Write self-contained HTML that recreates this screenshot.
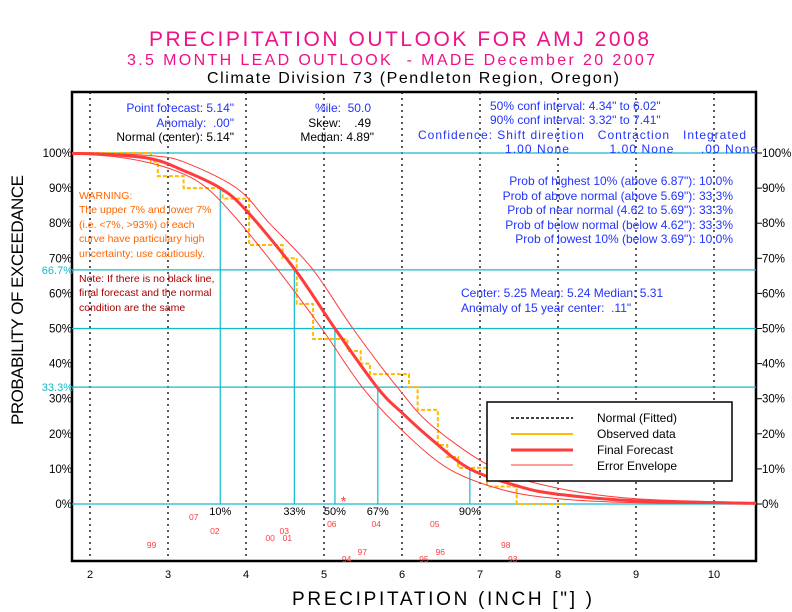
<!DOCTYPE html>
<html><head><meta charset="utf-8"><style>
html,body{margin:0;padding:0;background:#fff;}
svg{display:block;font-family:"Liberation Sans",sans-serif;}
text{white-space:pre;}
</style></head><body>
<svg id="chart" width="792" height="612" viewBox="0 0 792 612" xmlns="http://www.w3.org/2000/svg">
<g>
<text x="399" y="46" text-anchor="middle" font-size="21" fill="#ee1188" textLength="500">PRECIPITATION OUTLOOK FOR AMJ 2008</text>
<text x="391" y="65" text-anchor="middle" font-size="16" fill="#ee1188" textLength="528">3.5 MONTH LEAD OUTLOOK  - MADE December 20 2007</text>
<text x="413" y="83" text-anchor="middle" font-size="16" fill="#000" textLength="412">Climate Division 73 (Pendleton Region, Oregon)</text>
</g>
<g id="plot"></g>
<g font-size="12">
<text x="234" y="112" text-anchor="end" fill="#2233ff">Point forecast: 5.14"</text>
<text x="234" y="127" text-anchor="end" fill="#2233ff">Anomaly:  .00"</text>
<text x="234" y="141" text-anchor="end" fill="#000">Normal (center): 5.14"</text>
<text x="371" y="112" text-anchor="end" fill="#2233ff">%ile:  50.0</text>
<text x="371" y="127" text-anchor="end" fill="#000">Skew:    .49</text>
<text x="374" y="141" text-anchor="end" fill="#000">Median: 4.89"</text>
<text x="490" y="110" fill="#2233ff">50% conf interval: 4.34" to 6.02"</text>
<text x="490" y="124" fill="#2233ff">90% conf interval: 3.32" to 7.41"</text>
<text x="418" y="139" fill="#2233ff" textLength="328">Confidence: Shift direction   Contraction   Integrated</text>
<text x="505" y="153" fill="#2233ff" textLength="252">1.00 None         1.00 None      .00 None</text>
<text x="733" y="185" text-anchor="end" fill="#2233ff">Prob of highest 10% (above 6.87"): 10.0%</text>
<text x="733" y="200" text-anchor="end" fill="#2233ff">Prob of above normal (above 5.69"): 33.3%</text>
<text x="733" y="214" text-anchor="end" fill="#2233ff">Prob of near normal (4.62 to 5.69"): 33.3%</text>
<text x="733" y="229" text-anchor="end" fill="#2233ff">Prob of below normal (below 4.62"): 33.3%</text>
<text x="733" y="243" text-anchor="end" fill="#2233ff">Prob of lowest 10% (below 3.69"): 10.0%</text>
<text x="461" y="297" fill="#2233ff">Center: 5.25 Mean: 5.24 Median: 5.31</text>
<text x="461" y="312" fill="#2233ff">Anomaly of 15 year center:  .11"</text>
</g>
<g font-size="10.5" fill="#ff6600">
<text x="79" y="199">WARNING:</text>
<text x="79" y="213">The upper 7% and lower 7%</text>
<text x="79" y="228">(i.e. &lt;7%, &gt;93%) of each</text>
<text x="79" y="242">curve have particulary high</text>
<text x="79" y="257">uncertainty; use cautiously.</text>
</g>
<g font-size="10.5" fill="#aa0000">
<text x="79" y="282">Note: If there is no black line,</text>
<text x="79" y="296">final forecast and the normal</text>
<text x="79" y="311">condition are the same</text>
</g>
<g>
<rect x="487" y="402" width="245" height="79" fill="#fff" stroke="#000" stroke-width="1.5"/>
<line x1="511" y1="418" x2="573" y2="418" stroke="#000" stroke-width="1.5" stroke-dasharray="3,2"/>
<line x1="511" y1="434" x2="573" y2="434" stroke="#ffbb00" stroke-width="2"/>
<line x1="511" y1="450" x2="573" y2="450" stroke="#ff3b3b" stroke-width="3"/>
<line x1="511" y1="465" x2="573" y2="465" stroke="#ff3b3b" stroke-width="1"/>
<text x="597" y="422" font-size="12">Normal (Fitted)</text>
<text x="597" y="438" font-size="12">Observed data</text>
<text x="597" y="454" font-size="12">Final Forecast</text>
<text x="597" y="470" font-size="12">Error Envelope</text>
</g>
<text x="442" y="605" text-anchor="middle" font-size="19" textLength="300">PRECIPITATION (INCH ["] )</text>
<text transform="translate(23,300) rotate(-90)" text-anchor="middle" font-size="17" textLength="250">PROBABILITY OF EXCEEDANCE</text>
</svg>
<script>
const xTicks = [2,3,4,5,6,7,8,9,10];
const yTicks = [0,10,20,30,40,50,60,70,80,90,100];
const fcX = [1.77,2.3,2.8,3.2,3.67,4.0,4.62,5.14,5.69,6.0,6.4,6.87,7.5,8.0,9.0,10.54];
const fcP = [99.9,99.5,98.3,95,90,83.7,67,50,33,26,18,10,5,2.8,0.9,0.2];
const upX = [1.77,2.3,2.8,3.2,3.88,4.3,4.85,5.37,5.95,6.4,7.2,8.0,9.0,10.54];
const upP = [100,99.8,99.2,97.5,90,80,67,50,33,22,10,4.5,1.5,0.4];
const loX = [1.77,2.3,2.8,3.2,3.5,3.85,4.4,4.97,5.5,6.0,6.6,7.3,8.0,9.0,10.54];
const loP = [99.8,99,97,94,90,82,67,50,33,21,10,4,1.5,0.4,0.1];
const obsX = [2.78,2.87,3.2,3.7,4.04,4.47,4.65,4.86,5.3,5.47,5.59,6.09,6.2,6.46,6.58,6.72,7.09,7.47];
const obsP = [100,97.5,93.4,90,87,73.8,70,57,47,43.6,40,37,33.3,26.8,16.8,13.4,10.3,5,0];
const pctX = [3.67,4.62,5.14,5.69,6.87];
const pctP = [90,67,50,33,10];
const pctLabels = ["10%","33%","50%","67%","90%"];
const hLines = [100,66.7,50,33.3,0];
const years = ["99","07","02","00","03","01","06","94","97","04","95","05","96","98","93"];
const yearVals = [2.79,3.33,3.6,4.31,4.49,4.53,5.1,5.29,5.49,5.67,6.28,6.42,6.49,7.33,7.42];
const yearRow = [5,1,3,4,3,4,2,7,6,2,7,2,6,5,7];
const centerVal = 5.25;

const X0=72,X1=756,Y0=504,Y100=153,TOP=92,BOT=561;
const xs = v => 90 + (v-2)*78;
const ys = p => Y0 - p*(Y0-Y100)/100;
const NS="http://www.w3.org/2000/svg";
const plot=document.getElementById('plot');
function mk(tag,attrs,parent){const e=document.createElementNS(NS,tag);for(const k in attrs)e.setAttribute(k,attrs[k]);(parent||plot).appendChild(e);return e;}

let fr=mk('rect',{x:X0,y:TOP,width:X1-X0,height:BOT-TOP,fill:'none',stroke:'#000','stroke-width':2.5});


xTicks.forEach(v=>{
  const l=mk('line',{x1:xs(v),x2:xs(v),y1:TOP,y2:BOT,stroke:'#000','stroke-width':1.3,'stroke-dasharray':'2,4'});
  
  
  const t=mk('text',{x:xs(v),y:578,'text-anchor':'middle','font-size':11});
  t.textContent=v;
  
  
});
yTicks.forEach(p=>{
  const t=mk('text',{x:72,y:ys(p)+4,'text-anchor':'end','font-size':11.5});
  t.textContent=p+'%';
  
  
  mk('line',{x1:756,x2:762,y1:ys(p),y2:ys(p),stroke:'#000'});
  const r=mk('text',{x:762,y:ys(p)+4,'font-size':11.5});
  r.textContent=p+'%';
  
  
});
hLines.forEach(p=>{
  const l=mk('line',{x1:X0,x2:X1,y1:ys(p),y2:ys(p),stroke:'#11bbcc','stroke-width':1.2});
  
  
});
[66.7,33.3].forEach(p=>{
  const t=mk('text',{x:73,y:ys(p)+4,'text-anchor':'end','font-size':11,fill:'#11bbcc'});
  t.textContent=p+'%';
  
  
});
pctX.forEach((v,i)=>{
  const l=mk('line',{x1:xs(v),x2:xs(v),y1:ys(pctP[i]),y2:Y0,stroke:'#11bbcc','stroke-width':1.2});
  
  
  const t=mk('text',{x:xs(v),y:515,'text-anchor':'middle','font-size':11});
  t.textContent=pctLabels[i];
  
  
});
function smooth(xa,pa){
  const P=xa.map((v,i)=>[xs(v),ys(pa[i])]);
  let d='M'+P[0][0].toFixed(1)+','+P[0][1].toFixed(1);
  for(let i=0;i<P.length-1;i++){
    const p0=P[i>0?i-1:i],p1=P[i],p2=P[i+1],p3=P[i+2<P.length?i+2:i+1];
    const c1=[p1[0]+(p2[0]-p0[0])/6,p1[1]+(p2[1]-p0[1])/6];
    const c2=[p2[0]-(p3[0]-p1[0])/6,p2[1]-(p3[1]-p1[1])/6];
    d+=' C'+c1[0].toFixed(1)+','+c1[1].toFixed(1)+' '+c2[0].toFixed(1)+','+c2[1].toFixed(1)+' '+p2[0].toFixed(1)+','+p2[1].toFixed(1);
  }
  return d;
}
let sp=[];
sp.push(X0+','+ys(obsP[0]));
obsX.forEach((v,i)=>{sp.push(xs(v)+','+ys(obsP[i]));sp.push(xs(v)+','+ys(obsP[i+1]));});
sp.push(xs(8.1)+','+ys(0));
const ob=mk('polyline',{points:sp.join(' '),fill:'none',stroke:'#ffbb00','stroke-width':2,'stroke-dasharray':'4,2'});


const nf=mk('path',{d:smooth(fcX,fcP),fill:'none',stroke:'#000','stroke-width':1,'stroke-dasharray':'3,2'});


const u=mk('path',{d:smooth(upX,upP),fill:'none',stroke:'#ff3b3b','stroke-width':1});


const lo=mk('path',{d:smooth(loX,loP),fill:'none',stroke:'#ff3b3b','stroke-width':1});


const fc=mk('path',{d:smooth(fcX,fcP),fill:'none',stroke:'#ff3b3b','stroke-width':3});


const st=mk('text',{x:xs(centerVal),y:506,'text-anchor':'middle','font-size':14,fill:'#ff3b3b'});
st.textContent='*';


years.forEach((y,i)=>{
  const t=mk('text',{x:xs(yearVals[i]),y:513+yearRow[i]*7,'text-anchor':'middle','font-size':8.5,fill:'#ff3b3b'});
  t.textContent=y;
  
  
});
</script>
</body></html>
